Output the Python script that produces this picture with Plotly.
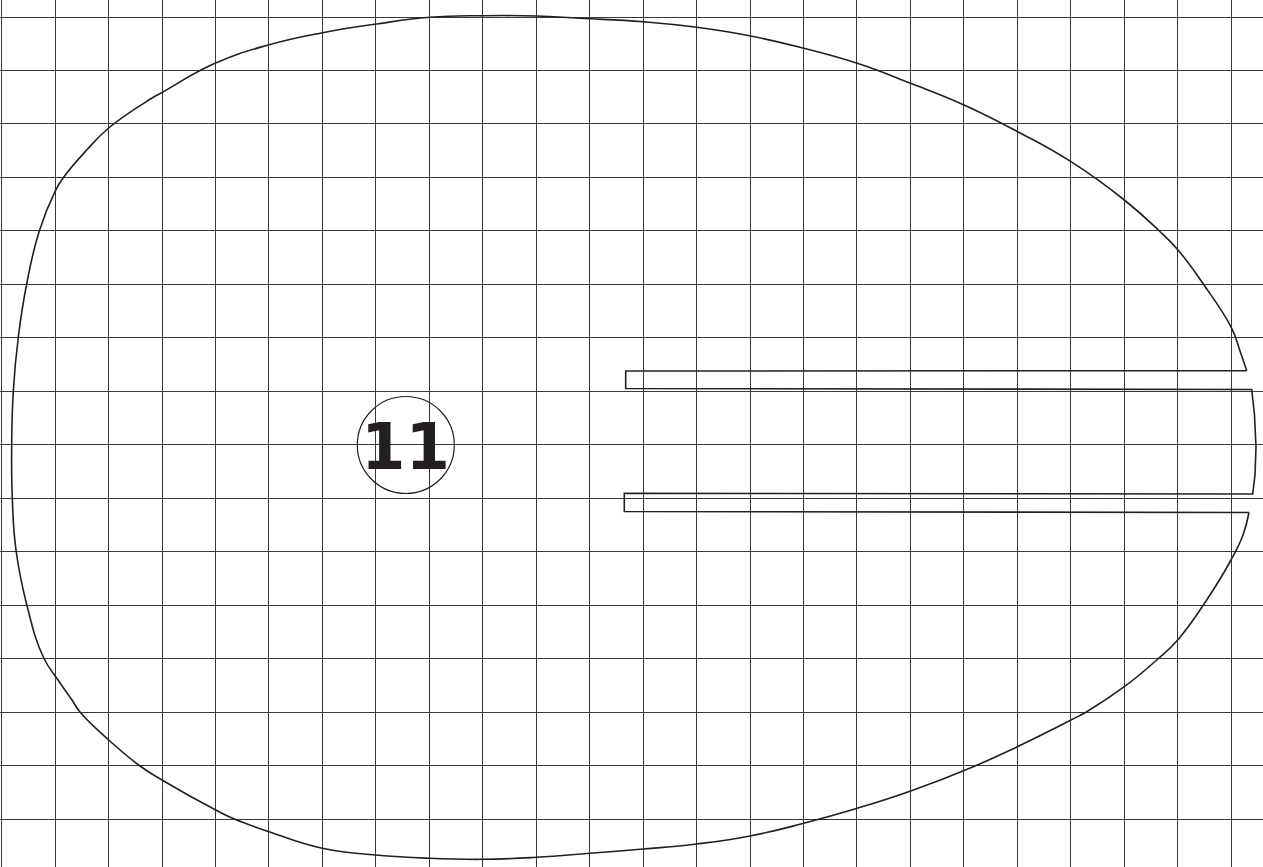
import plotly.graph_objects as go

# Grid (pixel-space coordinates of the drawing)
grid_x0, grid_dx = 1.7, 53.45
grid_y0, grid_dy = 17.0, 53.49

# Outer curved outline (screen coords, y downward)
outline_x = [1249, 1243, 1231, 1206.7, 1177.7, 1156.7, 1124.3, 1086.7, 1071, 1017.3, 973.3, 910.7, 857.3, 803.7,
             750, 696.7, 643.3, 590, 536.3, 483, 429.3, 376, 322.3, 269, 235, 215.7, 162, 140, 108.7, 80, 72,
             58, 43.3, 26.7, 16, 12.3, 11.7, 13.3, 18.3, 26.7, 39.3, 55, 63.3, 86.7, 108.7, 150, 162, 215, 268.3,
             322.7, 376.7, 430, 483.3, 536.7, 580, 643.3, 696.7, 750.7, 804, 857.3, 910.7, 964, 1017.7, 1071,
             1124.3, 1158.3, 1178, 1203.3, 1231.7, 1240, 1246.7]
outline_y = [512.5, 535, 560, 600, 640, 660, 686.7, 711.7, 720, 746.7, 766.7, 791, 808.3, 823.3,
             836, 844, 849, 853.3, 857.3, 859.3, 858.3, 855, 848.3, 831.7, 819.3, 810, 780, 766, 740, 712, 700,
             680, 657, 604.5, 550, 498, 444.4, 391, 337, 284, 231, 191.7, 177.7, 150, 128, 99.3, 92.5, 63.3, 45,
             32.7, 24, 17.3, 15.7, 16, 18.3, 21.7, 27.3, 36, 48.3, 63.3, 83.3, 105, 131.7, 161.7,
             200, 230, 250, 284, 328.3, 351, 370.7]

# Slot outline
slot_x = [1246.7, 625.7, 625.7, 1251.7, 1254.5, 1256, 1255, 1252.7, 624.3, 624.3, 1249]
slot_y = [370.7, 371, 388.5, 389.5, 415, 447, 475, 494, 493.3, 511.5, 512.5]

# Label
label_text = "11"
label_x, label_y = 405.8, 445
label_r = 48.5

ink = "#231f20"
fig = go.Figure()
fig.add_trace(go.Scatter(x=outline_x, y=outline_y, mode="lines",
                         line=dict(color=ink, width=1.6, shape="spline", smoothing=1.3, simplify=False),
                         hoverinfo="skip"))
fig.add_trace(go.Scatter(x=slot_x, y=slot_y, mode="lines",
                         line=dict(color=ink, width=1.6, simplify=False), hoverinfo="skip"))
fig.add_shape(type="circle", x0=label_x-label_r, x1=label_x+label_r,
              y0=label_y-label_r, y1=label_y+label_r,
              line=dict(color=ink, width=1.2))
fig.add_annotation(x=label_x, y=label_y+2, text="<b>"+label_text+"</b>", showarrow=False,
                   font=dict(family="DejaVu Sans", size=64, color=ink),
                   xanchor="center", yanchor="middle")

fig.update_layout(
    width=1263, height=867, margin=dict(l=0, r=0, t=0, b=0),
    paper_bgcolor="white", plot_bgcolor="white", showlegend=False,
    xaxis=dict(range=[0, 1263], showgrid=True, gridcolor="#3a3a3a", gridwidth=1,
               tick0=grid_x0, dtick=grid_dx, showticklabels=False, zeroline=False,
               ticks="", showline=False, fixedrange=True),
    yaxis=dict(range=[867, 0], showgrid=True, gridcolor="#3a3a3a", gridwidth=1,
               tick0=grid_y0, dtick=grid_dy, showticklabels=False, zeroline=False,
               ticks="", showline=False, fixedrange=True),
)
fig.write_html("out.html", config={"displayModeBar": False},
               post_script="document.body.style.margin='0px';document.body.style.overflow='hidden';")
